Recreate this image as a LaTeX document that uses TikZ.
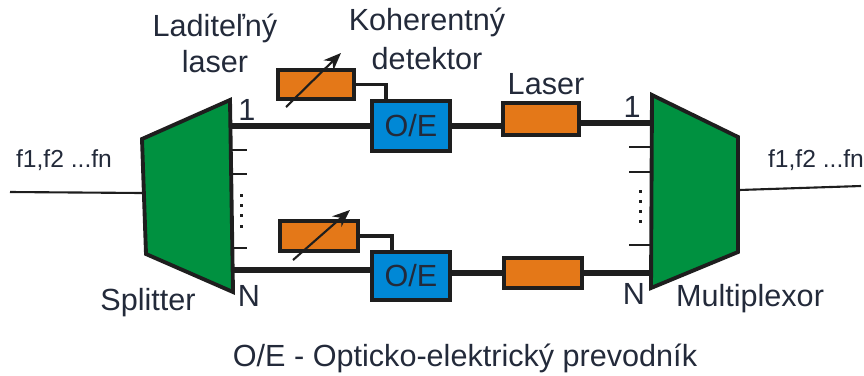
\documentclass[tikz,border=0pt]{standalone}
\usepackage{fontspec}
\setmainfont{Liberation Sans}
\usetikzlibrary{arrows.meta}
\definecolor{G4}{RGB}{0,145,64}
\definecolor{O4}{RGB}{228,120,24}
\definecolor{B4}{RGB}{0,136,214}
\definecolor{K4}{RGB}{30,30,30}
\definecolor{T4}{RGB}{35,42,58}
\tikzset{
  lbl/.style={text=T4, font=\fontsize{8.7}{8.7}\selectfont, inner sep=0pt},
  laserbox/.style={draw=K4, line width=1pt, fill=O4, inner sep=0pt},
  oebox/.style={draw=K4, line width=1pt, fill=B4, inner sep=0pt, text=T4,
    minimum width=0.78cm, minimum height=0.5cm, font=\fontsize{8.7}{8.7}\selectfont},
  fat/.style={K4, line width=1.5pt},
  thin/.style={K4, line width=0.6pt},
  wire/.style={K4, line width=1pt},
  stub/.style={K4, line width=0.8pt},
  dot/.style={fill=K4, inner sep=0pt, minimum size=0.03cm, rectangle}
}

\begin{document}
\begin{tikzpicture}[x=0.01cm, y=-0.01cm]
      \useasboundingbox (0,0) rectangle (864,375);
      % splitter and multiplexor
      \draw[fill=G4, draw=K4, line width=1.1pt] (142,139)--(230,100)--(233,292)--(146,254)--cycle;
      \draw[fill=G4, draw=K4, line width=1.1pt] (652,95)--(738,137)--(738,252)--(651,288)--cycle;
      \coordinate (in) at (10,192);
      \coordinate (split) at (143,193);
      \coordinate (mux) at (739,190);
      \coordinate (out) at (861,186);
      \coordinate (s1) at (231,126);
      \coordinate (sN) at (233,270);
      \coordinate (m1) at (652,123);
      \coordinate (mN) at (652,273);
      % boxes
      \node[oebox] (oe1) at (411,126) {O/E};
      \node[oebox, minimum height=0.48cm] (oe2) at (411,276) {O/E};
      \node[laserbox, minimum width=0.76cm, minimum height=0.32cm] (las1) at (541,119) {};
      \node[laserbox, minimum width=0.78cm, minimum height=0.30cm] (las2) at (543,273) {};
      \node[laserbox, minimum width=0.76cm, minimum height=0.29cm] (tun1) at (316,84.5) {};
      \node[laserbox, minimum width=0.78cm, minimum height=0.30cm] (tun2) at (319,236) {};
      % main lines
      \draw[thin] (in)--(split);
      \draw[thin] (mux)--(out);
      \draw[fat] (s1)--(s1-|oe1.west);
      \draw[fat] (sN)--(sN-|oe2.west);
      \draw[fat] (oe1.east)--(oe1.east-|las1.west);
      \draw[fat] (oe2.east|-mN)--(las2.west);
      \draw[fat] (m1-|las1.east)--(m1);
      \draw[fat] (las2.east)--(mN);
      \draw[wire] (tun1.east)-|(386,101);
      \draw[wire] (tun2.east)-|(392,252);
      % tuning arrows
      \coordinate (a1) at (286,107); \coordinate (b1) at (341,53);
      \coordinate (a2) at (293,260); \coordinate (b2) at (350,210);
      \draw[thin, -{Stealth[length=5pt,width=4pt]}] (a1)--(b1);
      \draw[thin, -{Stealth[length=5pt,width=4pt]}] (a2)--(b2);
      % stubs
      \foreach \y in {150, 174, 248} { \draw[stub] (231,\y)--(247,\y); }
      \foreach \y in {147, 172, 245} { \draw[stub] (629,\y)--(652,\y); }
      \foreach \y in {195, 205, 215, 226} { \node[dot] (dl\y) at (241,\y) {}; }
      \foreach \y in {191, 201, 211, 221} { \node[dot] (dr\y) at (640,\y) {}; }
      % labels
      \node[lbl] (tunA) at (215,28) {Laditeľný};
      \node[lbl] (tunB) at (215,62) {laser};
      \node[lbl] (detA) at (427,22) {Koherentný};
      \node[lbl] (detB) at (427,59) {detektor};
      \node[lbl] (lasT) at (546,84) {Laser};
      \node[lbl] (one1) at (247,110) {1};
      \node[lbl] (enN1) at (249,296) {N};
      \node[lbl] (one2) at (632,107) {1};
      \node[lbl] (enN2) at (634,294) {N};
      \node[lbl] (splT) at (148,303) {Splitter};
      \node[lbl] (muxT) at (750,299) {Multiplexor};
      \node[lbl, font=\fontsize{7}{7}\selectfont] (frqL) at (64,160) {f1,f2 ...fn};
      \node[lbl, font=\fontsize{7}{7}\selectfont] (frqR) at (816,160) {f1,f2 ...fn};
      \node[lbl] (note) at (465,358) {O/E - Opticko-elektrický prevodník};
    \end{tikzpicture}
\end{document}
